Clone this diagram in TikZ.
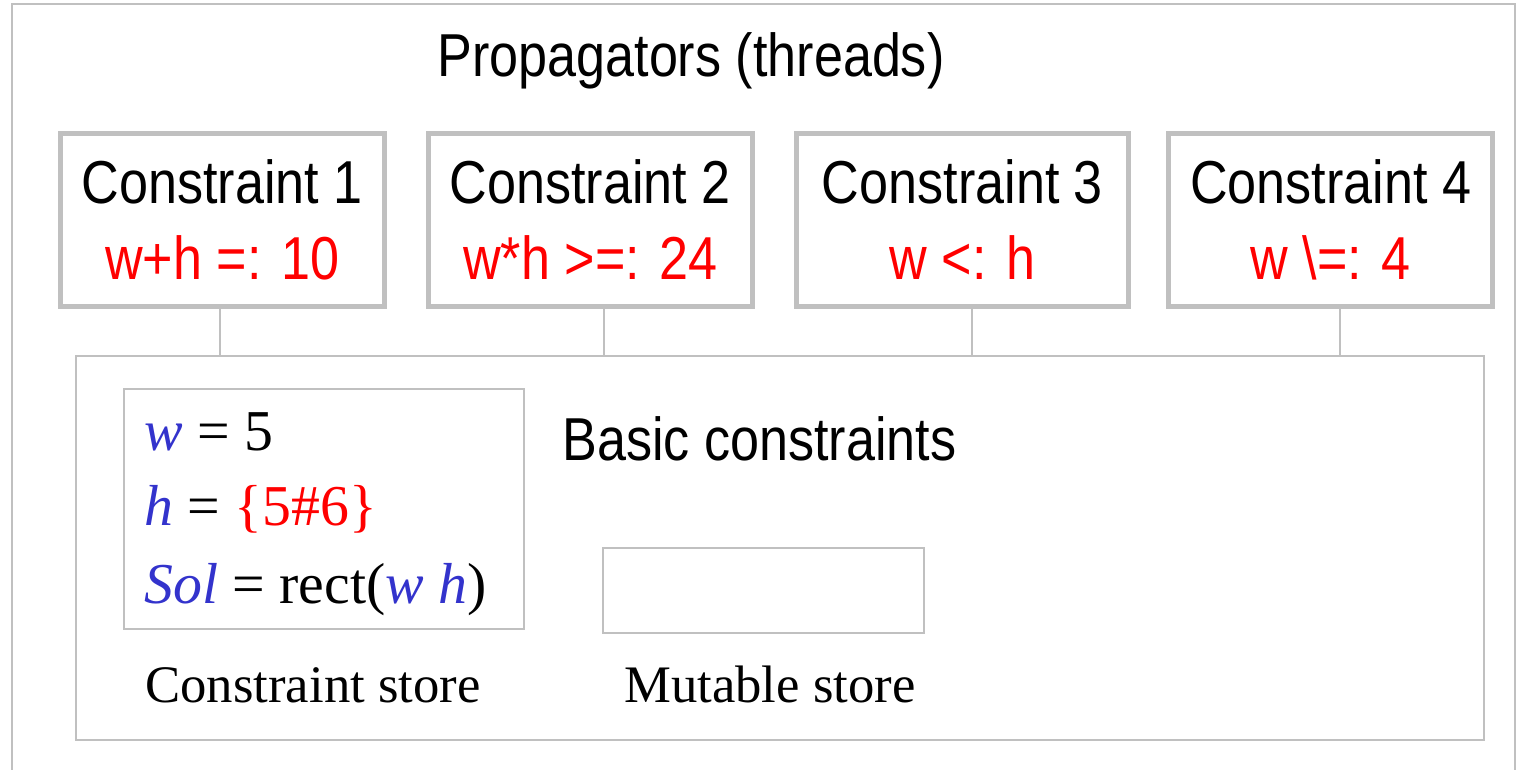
\documentclass[tikz,border=0pt]{standalone}
\usepackage{fontspec}
\setmainfont{Liberation Serif}
\newfontfamily\headfont[FakeStretch=0.86]{Liberation Sans}
\definecolor{linegray}{RGB}{192,192,192}
\definecolor{varblue}{RGB}{51,51,204}
\newcommand{\vb}[1]{\textcolor{varblue}{\itshape #1}}

\tikzset{
  headtext/.style={font=\headfont\fontsize{34.5}{43}\selectfont},
  conbox/.style={draw=linegray, line width=0.1cm, minimum width=6.49cm, minimum height=3.47cm,
    inner sep=0pt, align=center, headtext},
  storebox/.style={draw=linegray, line width=0.04cm, inner sep=0pt},
  storetext/.style={font=\fontsize{32.9}{43.5}\selectfont, anchor=base west, inner sep=0pt},
  labeltext/.style={font=\fontsize{30}{36}\selectfont, anchor=base, inner sep=0pt},
  link/.style={draw=linegray, line width=0.04cm}
}

\begin{document}
\begin{tikzpicture}[x=0.02cm, y=-0.02cm]
			\useasboundingbox (0,0) rectangle (1516,769);

			% outer frame
			\draw[link] (12,790) |- (1515,4) -- (1515,790);

			\node[headtext, anchor=base] (title) at (691,76) {Propagators (threads)};

			% constraint boxes
			\node[conbox] (c1) at (222.25,219.75) {Constraint 1\\\textcolor{red}{w+h =: 10}};
			\node[conbox] (c2) at (590.25,219.75) {Constraint 2\\\textcolor{red}{w*h >=: 24}};
			\node[conbox, minimum width=6.66cm] (c3) at (962.5,219.75) {Constraint 3\\\textcolor{red}{w <: h}};
			\node[conbox] (c4) at (1330.75,219.75) {Constraint 4\\\textcolor{red}{w \textbackslash=: 4}};

			% basic constraints
			\node[storebox, minimum width=28.16cm, minimum height=7.68cm] (basic) at (780,548) {};
			\node[headtext, anchor=base west, inner sep=0pt] (basiclabel) at (562,460) {Basic constraints};

			% threads down to the store
			\coordinate (t1) at (220,0);
			\coordinate (t2) at (604,0);
			\coordinate (t3) at (972,0);
			\coordinate (t4) at (1340,0);
			\draw[link] (c1.south -| t1) -- (basic.north -| t1);
			\draw[link] (c2.south -| t2) -- (basic.north -| t2);
			\draw[link] (c3.south -| t3) -- (basic.north -| t3);
			\draw[link] (c4.south -| t4) -- (basic.north -| t4);

			% constraint store
			\node[storebox, minimum width=8cm, minimum height=4.81cm] (cstore) at (324,509.2) {};
			\node[storetext] (wval) at (144,450) {\vb{w} = 5};
			\node[storetext] (hval) at (144,525) {\vb{h} = \textcolor{red}{\{5\#6\}}};
			\node[storetext] (solval) at (144,603) {\vb{Sol} = rect(\vb{w} \vb{h})};
			\node[labeltext] (cstorelabel) at (313,702.5) {Constraint store};

			% mutable store
			\node[storebox, minimum width=6.41cm, minimum height=1.7cm] (mstore) at (763.7,590.8) {};
			\node[labeltext] (mstorelabel) at (770,702) {Mutable store};
		\end{tikzpicture}
\end{document}
